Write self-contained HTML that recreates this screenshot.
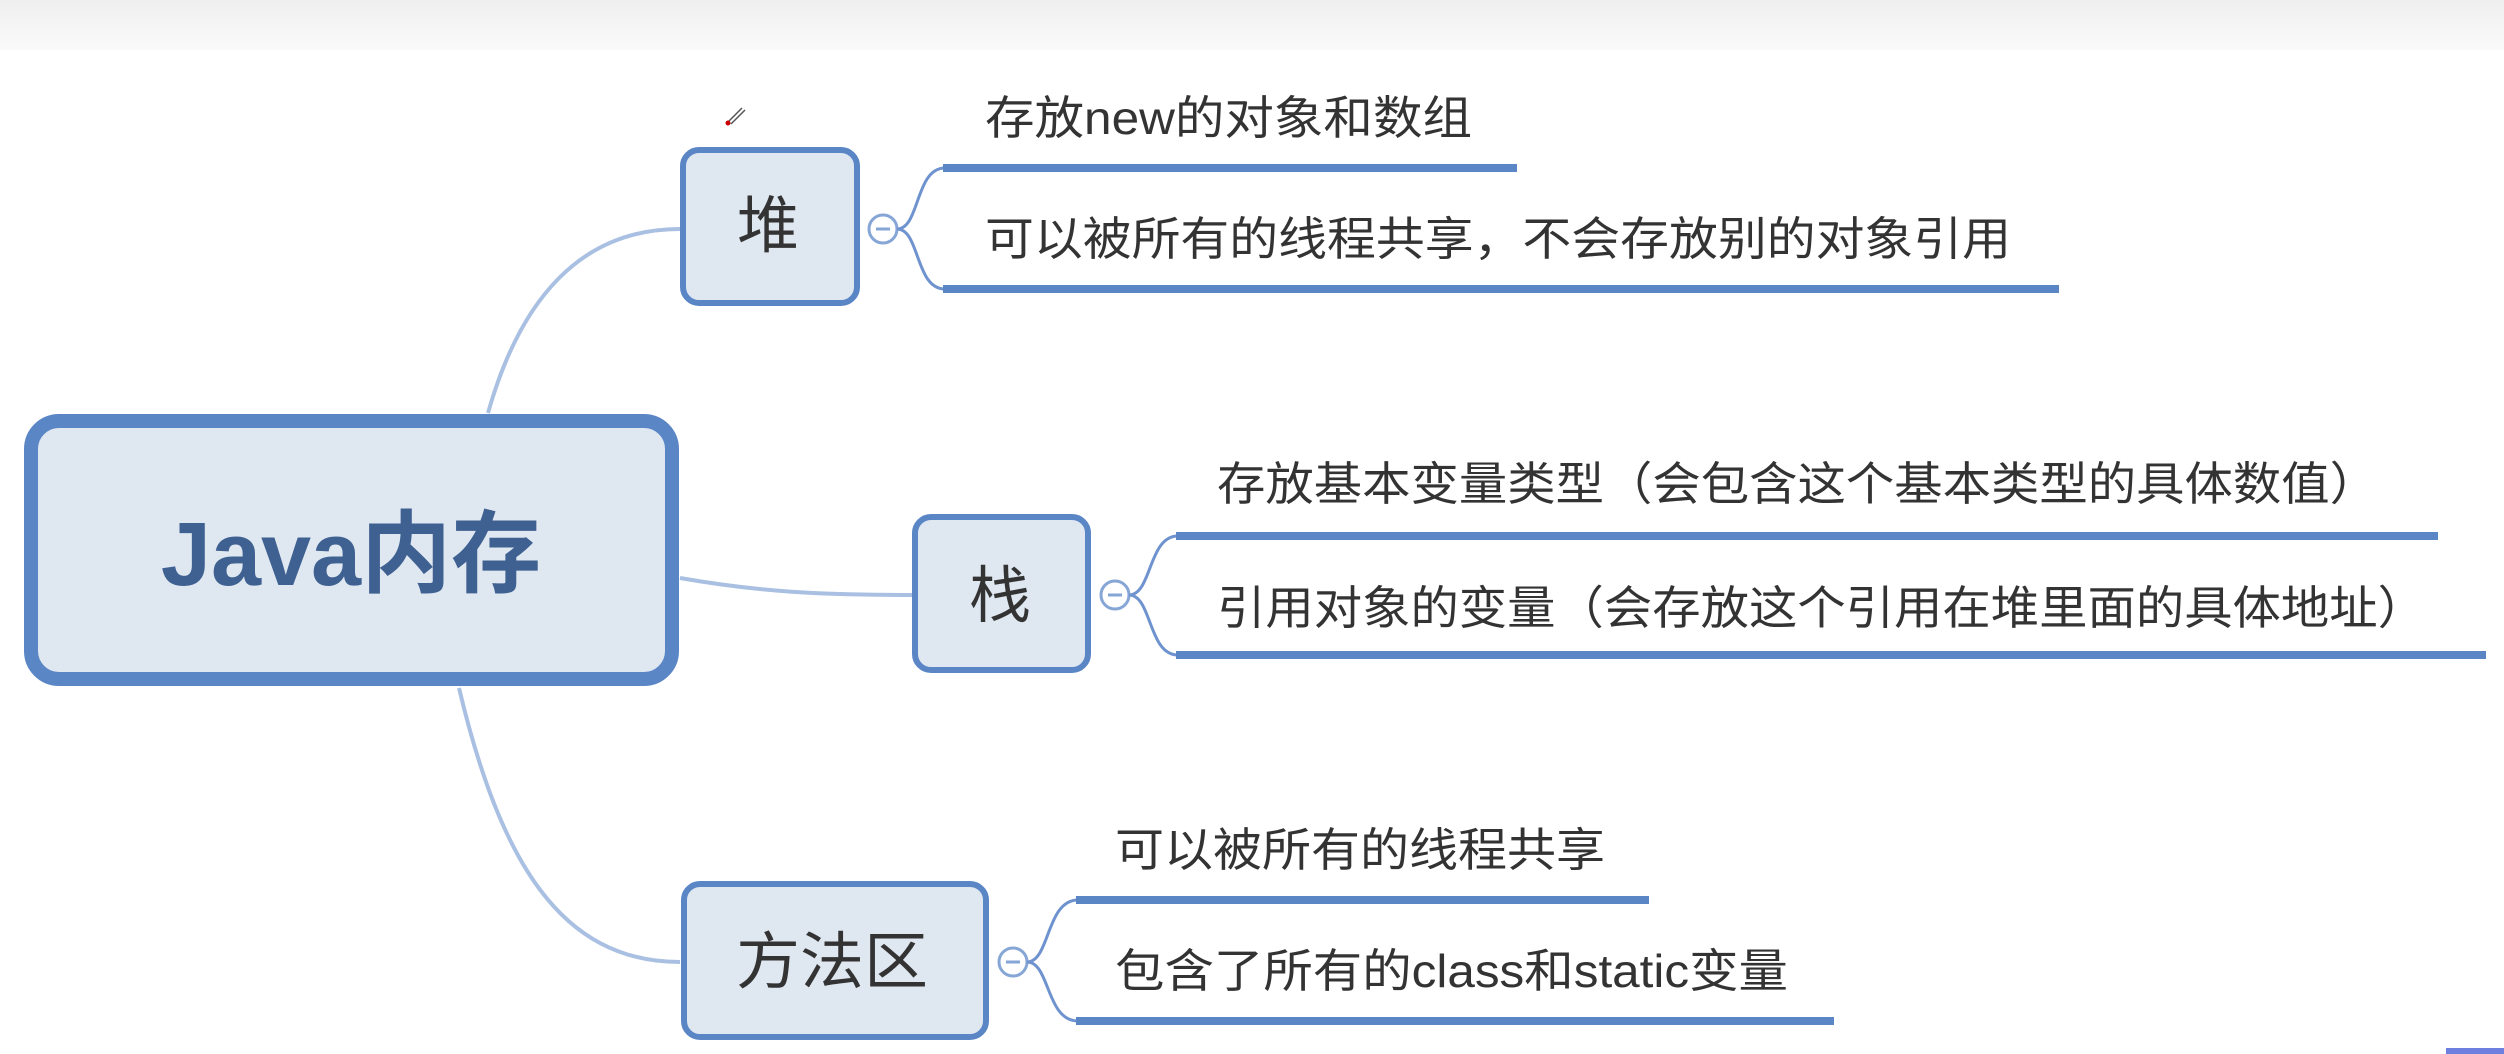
<!DOCTYPE html>
<html><head><meta charset="utf-8"><style>
html,body{margin:0;padding:0;background:#fff;}
svg{display:block;}
text{font-family:"Liberation Sans","Noto Sans CJK SC",sans-serif;}
</style></head><body>
<svg width="2504" height="1054" viewBox="0 0 2504 1054" xmlns="http://www.w3.org/2000/svg">
<defs><linearGradient id="g" x1="0" y1="0" x2="0" y2="1"><stop offset="0" stop-color="#efefef"/><stop offset="1" stop-color="#fafafa"/></linearGradient></defs>
<rect x="0" y="0" width="2504" height="50" fill="url(#g)"/>
<!-- connectors -->
<g fill="none" stroke="#a9c0e2" stroke-width="4">
<path d="M488 413 C520 300 580 229 680 229"/>
<path d="M680 578 C760 592 820 595 913 595"/>
<path d="M459 688 C500 860 560 962 680 962"/>
</g>
<!-- root -->
<rect x="31" y="421" width="641" height="258" rx="28" fill="#dfe7f1" stroke="#5b86c6" stroke-width="14"/>
<text x="351" y="585" font-size="90" font-weight="bold" fill="#3f6191" text-anchor="middle">Java内存</text>
<!-- nodes -->
<g fill="#dfe7f1" stroke="#5b86c6" stroke-width="6">
<rect x="683" y="150" width="174" height="153" rx="16"/>
<rect x="915" y="517" width="173" height="153" rx="16"/>
<rect x="684" y="884" width="302" height="153" rx="16"/>
</g>
<g font-size="62" fill="#333" text-anchor="middle">
<text x="768" y="247">堆</text>
<text x="1000" y="617">栈</text>
<text x="832" y="983" textLength="192" lengthAdjust="spacingAndGlyphs">方法区</text>
</g>
<!-- collapse circles and brackets -->
<g fill="#fff" stroke="#86a6d6" stroke-width="3">
<circle cx="883" cy="229" r="14"/>
<circle cx="1115" cy="595" r="14"/>
<circle cx="1013" cy="962" r="14"/>
</g>
<g stroke="#86a6d6" stroke-width="3"><line x1="876" y1="229" x2="890" y2="229"/><line x1="1108" y1="595" x2="1122" y2="595"/><line x1="1006" y1="962" x2="1020" y2="962"/></g>
<g fill="none" stroke="#6f93cf" stroke-width="3">
<path d="M897 229 C920 229 915 168 945 168"/>
<path d="M897 229 C920 229 915 289 945 289"/>
<path d="M1129 595 C1152 595 1148 536 1178 536"/>
<path d="M1129 595 C1152 595 1148 655 1178 655"/>
<path d="M1027 962 C1050 962 1046 900 1078 900"/>
<path d="M1027 962 C1050 962 1046 1021 1078 1021"/>
</g>
<g stroke="#5b86c6" stroke-width="8">
<line x1="943" y1="168" x2="1517" y2="168"/>
<line x1="943" y1="289" x2="2059" y2="289"/>
<line x1="1176" y1="536" x2="2438" y2="536"/>
<line x1="1176" y1="655" x2="2486" y2="655"/>
<line x1="1076" y1="900" x2="1649" y2="900"/>
<line x1="1076" y1="1021" x2="1834" y2="1021"/>
</g>
<g font-size="46" fill="#333">
<text x="985" y="134" textLength="487" lengthAdjust="spacingAndGlyphs">存放new的对象和数组</text>
<text x="985" y="255" textLength="1026" lengthAdjust="spacingAndGlyphs">可以被所有的线程共享，不会存放别的对象引用</text>
<text x="1217" y="500" textLength="1161" lengthAdjust="spacingAndGlyphs">存放基本变量类型（会包含这个基本类型的具体数值）</text>
<text x="1217" y="624" textLength="1209" lengthAdjust="spacingAndGlyphs">引用对象的变量（会存放这个引用在堆里面的具体地址）</text>
<text x="1115" y="866" textLength="490" lengthAdjust="spacingAndGlyphs">可以被所有的线程共享</text>
<text x="1115" y="987" textLength="673" lengthAdjust="spacingAndGlyphs">包含了所有的class和static变量</text>
</g>
<path d="M728 122 L742 108 M731 124 L745 110" stroke="#555" stroke-width="1.5"/>
<circle cx="728" cy="123" r="2.5" fill="#c00"/>
<rect x="2446" y="1048" width="58" height="6" fill="#6f7fe0"/>
</svg>
</body></html>
